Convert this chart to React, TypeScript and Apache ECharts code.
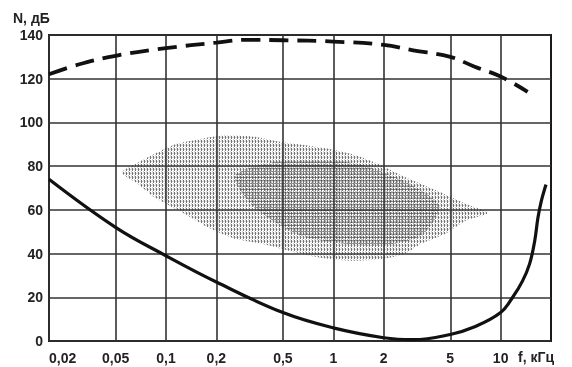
import React, { useEffect, useRef } from "react";
import * as echarts from "echarts";

const freqTicks = [0.02, 0.05, 0.1, 0.2, 0.5, 1, 2, 5, 10];
const freqTickLabels = ["0,02", "0,05", "0,1", "0,2", "0,5", "1", "2", "5", "10"];

// Threshold of pain (dashed), [kHz, dB]
const painThreshold: number[][] = [
  [0.02, 122], [0.03, 126.5], [0.05, 130.5], [0.1, 134], [0.2, 136.5], [0.3, 137.8],
  [0.5, 137.6], [1, 137], [2, 135.5], [3, 133], [5, 130], [7, 125.5], [10, 121], [14.5, 114],
];

// Threshold of hearing (solid), [kHz, dB]
const hearingThreshold: number[][] = [
  [0.02, 74], [0.05, 52], [0.1, 39], [0.2, 27], [0.5, 13], [1, 6], [2, 1.5], [3, 0.6],
  [5, 3], [7, 6.5], [10, 13], [11.8, 20], [13.5, 27.4], [14.9, 35.3], [16, 46],
  [16.7, 56.3], [17.5, 64], [18.4, 70], [18.7, 71.5],
];

// Speech area outline, [kHz, dB]
const speechOuter: number[][] = [
  [0.0547, 77.2], [0.0707, 82.4], [0.0955, 87.5], [0.116, 90.2], [0.173, 92.9],
  [0.227, 94.1], [0.346, 93.3], [0.488, 91], [0.702, 89.4], [1, 87.5], [1.35, 85.1],
  [1.83, 81.2], [2.7, 74.9], [4.14, 68.8], [6.17, 62.8], [8.33, 58.6],
  [6.17, 55], [4.68, 49.1], [3.34, 44.5], [2.7, 40], [2.03, 37.7], [1.35, 36.7],
  [0.84, 38.1], [0.534, 41.4], [0.377, 44.5], [0.258, 46.8], [0.18, 51.8],
  [0.129, 58.2], [0.086, 65.6], [0.0675, 72.1],
];

// Denser core of speech area, [kHz, dB]
const speechCore: number[][] = [
  [0.258, 75.8], [0.488, 82.4], [1.3, 81.6], [2.61, 73.5], [4.3, 61.8],
  [3.34, 48.2], [1.75, 43.6], [0.64, 48.2], [0.33, 61.8],
];

function makePattern(w: number, h: number, draw: (ctx: CanvasRenderingContext2D) => void) {
  const c = document.createElement("canvas");
  c.width = w;
  c.height = h;
  const ctx = c.getContext("2d")!;
  draw(ctx);
  return { image: c.toDataURL(), repeat: "repeat", imageWidth: w, imageHeight: h };
}

export default function App() {
  const ref = useRef<HTMLDivElement>(null);
  useEffect(() => {
    if (!ref.current) return;
    const chart = echarts.init(ref.current, null, { renderer: "svg" });

    const outerPattern = makePattern(3, 4, (ctx) => {
      ctx.fillStyle = "rgba(55,55,55,0.7)";
      ctx.fillRect(0, 0, 1, 3);
      ctx.fillStyle = "rgba(110,110,110,0.35)";
      ctx.fillRect(1, 1, 1, 1);
      ctx.fillRect(2, 3, 1, 1);
      ctx.fillStyle = "rgba(140,140,140,0.25)";
      ctx.fillRect(2, 0, 1, 2);
    });
    const corePattern = makePattern(4, 3, (ctx) => {
      ctx.fillStyle = "rgba(50,50,50,0.5)";
      ctx.fillRect(0, 0, 4, 1);
      ctx.fillStyle = "rgba(80,80,80,0.35)";
      ctx.fillRect(1, 1, 1, 2);
      ctx.fillRect(3, 2, 1, 1);
    });

    const font = "'Liberation Sans', Arial, sans-serif";
    const polySeries = (pts: number[][], fill: any) => ({
      type: "custom",
      silent: true,
      z: 1,
      data: [[1, 60]],
      renderItem: (_p: any, api: any) => ({
        type: "polygon",
        shape: { points: pts.map((p) => api.coord(p)), smooth: 0.25 },
        style: { fill },
      }),
    });

    chart.setOption({
      animation: false,
      grid: {
        left: 49, right: 21, top: 35, bottom: 26,
        show: true, borderColor: "#1a1a1a", borderWidth: 2, backgroundColor: "transparent",
      },
      xAxis: {
        type: "log",
        logBase: 10,
        min: 0.02,
        max: 20,
        axisLine: { show: false },
        axisTick: { show: false, customValues: freqTicks },
        axisLabel: {
          customValues: freqTicks,
          alignMinLabel: "left",
          formatter: (v: number) => {
            let best = 0;
            freqTicks.forEach((t, i) => {
              if (Math.abs(Math.log10(t) - Math.log10(v)) < Math.abs(Math.log10(freqTicks[best]) - Math.log10(v))) best = i;
            });
            return freqTickLabels[best];
          },
          color: "#222", fontSize: 14, fontWeight: "bold", fontFamily: font, margin: 10,
        },
        splitLine: { show: true, lineStyle: { color: "#333", width: 1.6 } },
      },
      yAxis: {
        type: "value",
        min: 0,
        max: 140,
        interval: 20,
        axisLine: { show: false },
        axisTick: { show: false },
        axisLabel: { color: "#222", fontSize: 14, fontWeight: "bold", fontFamily: font, margin: 6 },
        splitLine: { show: true, lineStyle: { color: "#333", width: 1.6 } },
      },
      graphic: [
        { type: "text", left: 13, top: 11, style: { text: "N, дБ", fill: "#222", font: `bold 14px ${font}` } },
        { type: "text", left: 518, top: 350, style: { text: "f, кГц", fill: "#222", font: `bold 14px ${font}` } },
      ],
      series: [
        polySeries(speechOuter, outerPattern),
        polySeries(speechCore, corePattern),
        {
          type: "line",
          data: painThreshold,
          smooth: 0.4,
          symbol: "none",
          z: 3,
          lineStyle: { color: "#111", width: 3.8, type: [19, 9] },
        },
        {
          type: "line",
          data: hearingThreshold,
          smooth: 0.4,
          symbol: "none",
          z: 3,
          lineStyle: { color: "#111", width: 3.2 },
        },
      ],
    });
    return () => chart.dispose();
  }, []);
  return <div ref={ref} style={{ position: "fixed", left: 0, top: 0, width: 572, height: 367 }} />;
}
